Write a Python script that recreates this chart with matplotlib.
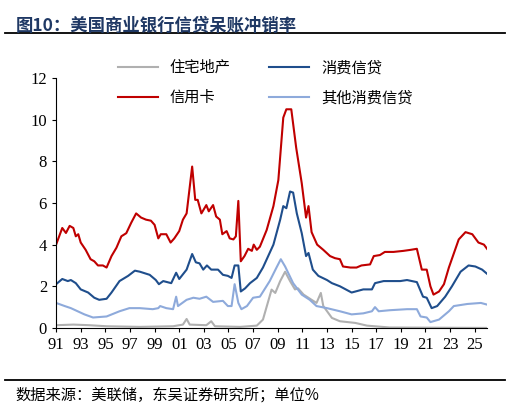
import matplotlib
matplotlib.use("Agg")
from matplotlib import pyplot as plt
from matplotlib.lines import Line2D

plt.rcParams['font.family'] = ['Noto Sans CJK SC', 'DejaVu Sans']

# credit card
card_x = [1991.0, 1991.5, 1991.8, 1992.1, 1992.4, 1992.6, 1992.8, 1993.0, 1993.4, 1993.8, 1994.1, 1994.4,
          1994.8, 1995.1, 1995.5, 1995.9, 1996.3, 1996.7, 1997.1, 1997.5, 1997.9, 1998.3, 1998.7, 1999.0,
          1999.3, 1999.5, 1999.95, 2000.3, 2000.6, 2001.0, 2001.3, 2001.6, 2002.05, 2002.3, 2002.5, 2002.8,
          2003.2, 2003.4, 2003.75, 2004.0, 2004.3, 2004.5, 2004.85, 2005.1, 2005.4, 2005.6, 2005.8, 2006.0,
          2006.3, 2006.6, 2006.9, 2007.05, 2007.3, 2007.55, 2008.1, 2008.65, 2009.05, 2009.45, 2009.7, 2010.1,
          2010.5, 2010.95, 2011.3, 2011.5, 2011.75, 2012.2, 2012.7, 2013.25, 2013.65, 2014.05, 2014.3, 2014.9,
          2015.4, 2015.8, 2016.5, 2016.8, 2017.3, 2017.7, 2018.4, 2019.2, 2019.8, 2020.3, 2020.7, 2021.1,
          2021.4, 2021.65, 2022.1, 2022.5, 2022.9, 2023.7, 2024.25, 2024.8, 2025.3, 2025.75, 2026.0]
card_y = [4.0, 4.8, 4.56, 4.9, 4.8, 4.4, 4.5, 4.1, 3.75, 3.3, 3.2, 3.0,
          3.0, 2.9, 3.45, 3.85, 4.4, 4.55, 5.05, 5.5, 5.3, 5.2, 5.15, 4.95,
          4.3, 4.5, 4.5, 4.1, 4.3, 4.65, 5.2, 5.5, 7.75, 6.15, 6.15, 5.5,
          5.9, 5.6, 5.9, 5.35, 5.2, 4.5, 4.65, 4.3, 4.25, 4.4, 6.1, 3.2,
          3.45, 3.8, 3.7, 4.0, 3.75, 3.9, 4.7, 5.85, 7.1, 10.1, 10.5, 10.5,
          8.65, 6.95, 5.3, 5.85, 4.6, 4.0, 3.75, 3.45, 3.35, 3.3, 2.95, 2.9,
          2.9, 3.0, 3.05, 3.45, 3.5, 3.65, 3.65, 3.7, 3.75, 3.8, 2.8, 2.8,
          2.0, 1.6, 1.75, 2.1, 2.9, 4.25, 4.6, 4.5, 4.1, 4.0, 3.8]

# consumer credit
cons_x = [1991.0, 1991.5, 1991.95, 1992.2, 1992.6, 1993.0, 1993.6, 1994.1, 1994.5, 1995.1, 1995.5, 1996.15,
          1996.85, 1997.4, 1997.8, 1998.6, 1999.1, 1999.35, 1999.7, 2000.35, 2000.75, 2001.0, 2001.6, 2002.05,
          2002.35, 2002.65, 2002.95, 2003.25, 2003.6, 2004.15, 2004.55, 2004.95, 2005.25, 2005.5, 2005.8, 2006.0,
          2006.35, 2006.75, 2007.3, 2007.8, 2008.65, 2009.2, 2009.45, 2009.7, 2010.0, 2010.25, 2010.55, 2010.95,
          2011.3, 2011.5, 2011.85, 2012.3, 2013.0, 2013.4, 2014.05, 2015.0, 2015.95, 2016.65, 2016.9, 2017.6,
          2018.95, 2019.5, 2020.3, 2020.8, 2021.1, 2021.5, 2021.95, 2022.6, 2023.15, 2023.85, 2024.5, 2025.05,
          2025.6, 2026.0]
cons_y = [2.1, 2.35, 2.25, 2.3, 2.15, 1.85, 1.7, 1.45, 1.35, 1.4, 1.7, 2.25,
          2.5, 2.75, 2.7, 2.55, 2.3, 2.1, 2.25, 2.15, 2.65, 2.35, 2.8, 3.55,
          3.15, 3.1, 2.8, 3.0, 2.8, 2.8, 2.55, 2.5, 2.4, 3.0, 3.0, 1.75,
          1.9, 2.15, 2.4, 2.9, 4.0, 5.2, 5.85, 5.75, 6.55, 6.5, 5.5, 4.55,
          3.45, 3.6, 2.8, 2.5, 2.3, 2.15, 2.0, 1.7, 1.85, 1.85, 2.15, 2.25,
          2.25, 2.3, 2.2, 1.5, 1.45, 0.95, 1.05, 1.5, 2.0, 2.7, 3.0, 2.95,
          2.8, 2.6]

# other consumer credit
other_x = [1991.0, 1991.7, 1992.2, 1992.75, 1993.3, 1994.0, 1995.1, 1996.15, 1996.95, 1997.8, 1998.85, 1999.3,
           1999.45, 1999.95, 2000.5, 2000.75, 2000.9, 2001.6, 2002.15, 2002.65, 2003.2, 2003.75, 2004.55, 2004.95,
           2005.25, 2005.5, 2005.8, 2006.05, 2006.5, 2007.0, 2007.55, 2008.35, 2008.9, 2009.25, 2009.6, 2010.25,
           2010.95, 2011.6, 2012.15, 2013.0, 2014.05, 2015.0, 2015.95, 2016.65, 2016.9, 2017.2, 2018.1, 2019.5,
           2020.3, 2020.6, 2021.1, 2021.4, 2022.1, 2022.6, 2022.9, 2023.3, 2024.4, 2025.5, 2026.0]
other_y = [1.2, 1.05, 0.95, 0.8, 0.65, 0.5, 0.55, 0.8, 0.95, 0.95, 0.9, 0.95,
           1.05, 0.95, 0.9, 1.5, 1.05, 1.35, 1.45, 1.4, 1.5, 1.25, 1.3, 1.05,
           1.05, 2.1, 1.2, 0.9, 1.05, 1.45, 1.5, 2.25, 2.9, 3.3, 2.95, 2.15,
           1.6, 1.35, 1.05, 0.95, 0.8, 0.65, 0.7, 0.8, 1.0, 0.8, 0.85, 0.9,
           0.9, 0.55, 0.5, 0.28, 0.4, 0.65, 0.8, 1.05, 1.15, 1.2, 1.12]

# residential real estate
res_x = [1991.0, 1992.4, 1993.7, 1995.1, 1997.8, 2000.5, 2001.3, 2001.6, 2001.85, 2003.2, 2003.6, 2003.9,
         2005.95, 2007.3, 2007.8, 2008.5, 2008.8, 2009.2, 2009.6, 2010.0, 2010.4, 2010.65, 2011.1, 2011.75,
         2012.15, 2012.5, 2012.7, 2013.4, 2014.05, 2015.3, 2016.25, 2018.1, 2026.0]
res_y = [0.13, 0.16, 0.13, 0.08, 0.05, 0.08, 0.16, 0.43, 0.16, 0.13, 0.32, 0.08,
         0.05, 0.11, 0.4, 1.84, 1.68, 2.25, 2.7, 2.25, 1.85, 1.9, 1.6, 1.35,
         1.2, 1.68, 1.05, 0.48, 0.32, 0.24, 0.11, 0.02, 0.0]

tick_years = list(range(1991, 2026, 2))
tick_labels = ['%02d' % (y % 100) for y in tick_years]

fig = plt.figure(figsize=(5.1, 4.13), dpi=100)
ax = fig.add_axes([0.11, 0.206, 0.845, 0.605])

ax.plot(res_x, res_y, color='#b0b0b0', lw=1.5, label='住宅地产')
ax.plot(other_x, other_y, color='#8eaadb', lw=1.5, label='其他消费信贷')
ax.plot(cons_x, cons_y, color='#1f4e8c', lw=1.5, label='消费信贷')
ax.plot(card_x, card_y, color='#c00000', lw=1.5, label='信用卡')

ax.set_xlim(1991, 2026)
ax.set_ylim(0, 12)
ax.set_yticks(range(0, 13, 2))
ax.set_xticks(tick_years)
ax.set_xticklabels(tick_labels)
for lab in ax.get_xticklabels() + ax.get_yticklabels():
    lab.set_fontfamily('Liberation Serif')
    lab.set_fontsize(12)
ax.tick_params(direction='out', length=3)
ax.spines['top'].set_visible(False)
ax.spines['right'].set_visible(False)

handles = [Line2D([], [], color='#b0b0b0', lw=1.5), Line2D([], [], color='#c00000', lw=1.5),
           Line2D([], [], color='#1f4e8c', lw=1.5), Line2D([], [], color='#8eaadb', lw=1.5)]
names = ['住宅地产', '信用卡', '消费信贷', '其他消费信贷']
fig.legend(handles, names, ncol=2, loc='center', bbox_to_anchor=(0.52, 0.8), frameon=False,
           fontsize=11, handlelength=2.6, columnspacing=2.5, labelspacing=0.85)

fig.text(0.03, 0.96, '图10：美国商业银行信贷呆账冲销率', color='#1f3864', fontsize=12.5,
         fontweight='bold', va='top', ha='left')
fig.add_artist(Line2D([0.01, 0.99], [0.92, 0.92], color='black', lw=1.3))
fig.add_artist(Line2D([0.01, 0.99], [0.08, 0.08], color='black', lw=1.3))
fig.text(0.03, 0.043, '数据来源：美联储，东吴证券研究所；单位%', fontsize=11, va='center', ha='left')

fig.savefig('out.png', dpi=100)
